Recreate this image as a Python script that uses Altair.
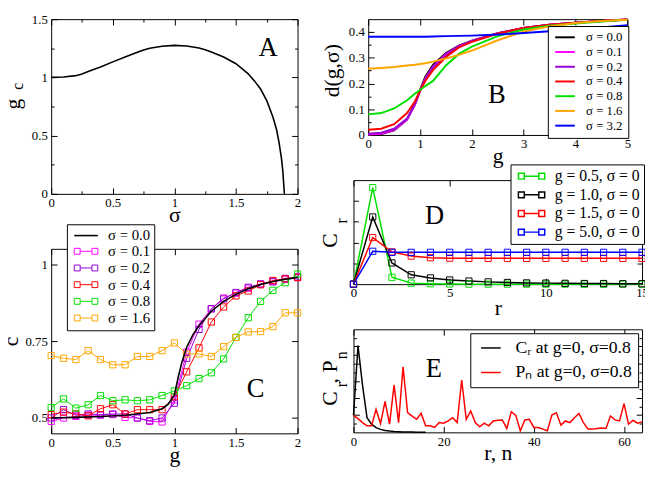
import altair as alt
import pandas as pd

FONT = "Liberation Serif"

# ---------------- Panel A : g_c versus sigma ----------------
A_sigma = [0.0, 0.1, 0.2, 0.25, 0.3, 0.4, 0.5, 0.6, 0.7, 0.75, 0.8, 0.9, 1.0, 1.1, 1.2,
           1.25, 1.3, 1.4, 1.5, 1.6, 1.65, 1.7, 1.75, 1.8, 1.83, 1.85, 1.87, 1.88, 1.89, 1.893]
A_gc = [1.0, 1.003, 1.015, 1.03, 1.05, 1.09, 1.133, 1.175, 1.215, 1.235, 1.25, 1.268, 1.275, 1.27, 1.252,
        1.237, 1.218, 1.175, 1.117, 1.03, 0.97, 0.9, 0.8, 0.66, 0.55, 0.44, 0.3, 0.2, 0.05, 0.0]

# ---------------- Panel B : d(g, sigma) ----------------
B_g = [0, 0.25, 0.5, 0.75, 0.9, 1.0, 1.1, 1.25, 1.5, 1.75, 2.0, 2.5, 3.0, 3.5, 4.0, 4.5, 5.0]
B_s00 = [0.0, 0.004, 0.018, 0.06, 0.12, 0.175, 0.225, 0.272, 0.318, 0.347, 0.366, 0.395, 0.416, 0.428, 0.436, 0.443, 0.449]
B_s01 = [0.002, 0.005, 0.02, 0.06, 0.117, 0.172, 0.22, 0.266, 0.314, 0.345, 0.365, 0.395, 0.416, 0.428, 0.436, 0.443, 0.449]
B_s02 = [0.005, 0.009, 0.024, 0.064, 0.118, 0.17, 0.216, 0.262, 0.31, 0.343, 0.364, 0.394, 0.416, 0.428, 0.436, 0.443, 0.449]
B_s04 = [0.02, 0.024, 0.042, 0.085, 0.13, 0.172, 0.21, 0.252, 0.303, 0.34, 0.362, 0.394, 0.416, 0.428, 0.436, 0.443, 0.449]
B_s08 = [0.08, 0.085, 0.103, 0.135, 0.16, 0.175, 0.19, 0.21, 0.27, 0.315, 0.343, 0.384, 0.41, 0.424, 0.433, 0.441, 0.448]
B_s16 = [0.257, 0.26, 0.264, 0.27, 0.273, 0.276, 0.279, 0.285, 0.297, 0.311, 0.328, 0.368, 0.402, 0.422, 0.435, 0.443, 0.448]
B_s32 = [0.382, 0.382, 0.382, 0.382, 0.382, 0.382, 0.382, 0.383, 0.384, 0.385, 0.386, 0.39, 0.396, 0.403, 0.411, 0.418, 0.426]
B_names = ["σ = 0.0", "σ = 0.1", "σ = 0.2", "σ = 0.4", "σ = 0.8", "σ = 1.6", "σ = 3.2"]
B_colors = ["#000000", "#ff00ff", "#9400d3", "#ff0000", "#00e000", "#ffa500", "#0000ff"]

# ---------------- Panel C : c versus g ----------------
C_g = [0.0, 0.1, 0.2, 0.3, 0.4, 0.5, 0.6, 0.7, 0.8, 0.9, 1.0, 1.1, 1.2, 1.3, 1.4, 1.5, 1.6, 1.7, 1.8, 1.9, 2.0]
C_s01 = [0.489, 0.5, 0.505, 0.509, 0.509, 0.511, 0.502, 0.5, 0.489, 0.487, 0.559, 0.714, 0.805, 0.855, 0.89, 0.906, 0.922, 0.935, 0.943, 0.951, 0.956]
C_s02 = [0.5, 0.527, 0.509, 0.513, 0.511, 0.513, 0.513, 0.5, 0.491, 0.5, 0.548, 0.694, 0.788, 0.855, 0.887, 0.908, 0.925, 0.936, 0.943, 0.954, 0.959]
C_s04 = [0.511, 0.519, 0.513, 0.507, 0.53, 0.543, 0.513, 0.527, 0.527, 0.527, 0.569, 0.65, 0.728, 0.812, 0.861, 0.897, 0.913, 0.933, 0.947, 0.952, 0.957]
C_s08 = [0.534, 0.562, 0.532, 0.543, 0.573, 0.556, 0.559, 0.556, 0.559, 0.573, 0.588, 0.605, 0.628, 0.647, 0.692, 0.762, 0.826, 0.879, 0.915, 0.94, 0.968]
C_s16 = [0.703, 0.694, 0.69, 0.719, 0.69, 0.673, 0.673, 0.7, 0.7, 0.719, 0.744, 0.708, 0.708, 0.7, 0.732, 0.762, 0.78, 0.781, 0.797, 0.842, 0.842]
C_g0 = [0.0, 0.2, 0.4, 0.6, 0.8, 0.9, 0.95, 1.0, 1.03, 1.06, 1.1, 1.15, 1.2, 1.3, 1.4, 1.5, 1.6, 1.7, 1.8, 1.9, 2.0]
C_s00 = [0.5, 0.502, 0.505, 0.509, 0.518, 0.53, 0.545, 0.575, 0.63, 0.68, 0.73, 0.77, 0.8, 0.847, 0.879, 0.902, 0.92, 0.934, 0.944, 0.951, 0.957]
C_names = ["σ = 0.0", "σ = 0.1", "σ = 0.2", "σ = 0.4", "σ = 0.8", "σ = 1.6"]
C_colors = ["#000000", "#ff00ff", "#9400d3", "#ff0000", "#00e000", "#ffa500"]

# ---------------- Panel D : C_r versus r ----------------
D_r = list(range(16))
D_g05 = [0, 0.464, 0.033, 0.005, 0.002, 0.001, 0, 0, 0, 0, 0, 0, 0, 0, 0, 0]
D_g10 = [0, 0.323, 0.102, 0.045, 0.03, 0.02, 0.015, 0.011, 0.008, 0.006, 0.005, 0.004, 0.003, 0.003, 0.002, 0.002]
D_g15 = [0, 0.224, 0.155, 0.135, 0.127, 0.125, 0.124, 0.124, 0.124, 0.124, 0.124, 0.124, 0.124, 0.124, 0.124, 0.124]
D_g50 = [0, 0.158, 0.153, 0.153, 0.153, 0.153, 0.153, 0.153, 0.153, 0.153, 0.153, 0.153, 0.153, 0.153, 0.153, 0.153]
D_names = ["g = 0.5, σ = 0", "g = 1.0, σ = 0", "g = 1.5, σ = 0", "g = 5.0, σ = 0"]
D_colors = ["#00e000", "#000000", "#ff0000", "#0000ff"]

# ---------------- Panel E : C_r and P_n ----------------
E_r = list(range(17))
E_C = [0.2, 1.01, 0.55, 0.171, 0.096, 0.055, 0.035, 0.022, 0.015, 0.01, 0.007, 0.005, 0.004, 0.003, 0.002, 0.002, 0.001]
E_n = list(range(65))
E_P = [0.198, 0.16, 0.114, 0.076, 0.076, 0.267, 0.103, 0.362, 0.095, 0.552,
       0.114, 0.762, 0.229, 0.19, 0.152, 0.221, 0.076, 0.076, 0.057, 0.114,
       0.107, 0.133, 0.171, 0.114, 0.61, 0.152, 0.248, 0.114, 0.065, 0.107,
       0.076, 0.133, 0.141, 0.145, 0.046, 0.24, 0.198, 0.019, 0.145, 0.152,
       0.057, 0.057, 0.038, 0.019, 0.202, 0.229, 0.084, 0.133, 0.114, 0.171,
       0.221, 0.114, 0.038, 0.038, 0.046, 0.05, 0.046, 0.19, 0.145, 0.133,
       0.335, 0.095, 0.141, 0.107, 0.122]
E_names = ["Cᵣ at g=0, σ=0.8", "Pₙ at g=0, σ=0.8"]
E_colors = ["#000000", "#ff0000"]

# legend symbol paths (units scaled by sqrt(symbolSize)/2 = 4 px)
P_LINE20 = "M-1,0H4"
P_LINE24 = "M-1,0H5"
P_SQ24 = "M-1,-0.75H0.5V0.75H-1ZM0.5,0H3.5M3.5,-0.75H5V0.75H3.5Z"
P_SQ27 = "M-1,-0.75H0.5V0.75H-1ZM0.5,0H4.2M4.2,-0.75H5.7V0.75H4.2Z"


def qs(dom):
    return alt.Scale(domain=dom, nice=False, zero=False)


def ax(orient, values, size=5, labels=False, title="", lpad=None, **kw):
    if lpad is None:
        lpad = 9 if orient in ("bottom", "top") else 10
    d = dict(orient=orient, values=values, tickSize={"expr": str(-size)}, tickColor="black",
             tickWidth=1, domain=False, grid=False, labels=labels, title=title,
             labelFlush=False, labelOverlap=False, labelExpr="'' + datum.value", labelPadding=lpad,
             labelFont=FONT, labelFontSize=13, labelColor="black",
             titleFont=FONT, titleFontSize=22, titleFontWeight="normal", titleColor="black")
    d.update(kw)
    return alt.Axis(**d)


def ytitle(t, tx, ty, size=22):
    return dict(title=t, titleX=tx, titleY=ty, titleAngle=270, titleAlign="center",
                titleBaseline="alphabetic", titleFontSize=size)


def xtitle(t, ty):
    return dict(title=t, titleY=ty, titleBaseline="alphabetic")


def axis_layer(xdom, ydom, xaxis=None, yaxis=None):
    df = pd.DataFrame({"x": xdom, "y": ydom})
    return alt.Chart(df).mark_point(opacity=0).encode(
        x=alt.X("x:Q", scale=qs(xdom), axis=xaxis),
        y=alt.Y("y:Q", scale=qs(ydom), axis=yaxis),
    )


def long_df(xs, series, names):
    rows = []
    for name, ys in zip(names, series):
        for x, y in zip(xs, ys):
            rows.append({"x": x, "y": y, "s": name})
    return pd.DataFrame(rows)


def make_legend(boxed=True, **lp):
    props = dict(orient="none", title=None, labelFont=FONT, labelColor="black",
                 symbolSize=64, labelLimit=400)
    if boxed:
        props.update(strokeColor="black", fillColor="white")
    props.update(lp)
    return alt.Legend(**props)


def lines(df, xdom, ydom, names, colors, width, legend=None):
    return alt.Chart(df).mark_line(strokeWidth=width).encode(
        x=alt.X("x:Q", scale=qs(xdom), axis=None),
        y=alt.Y("y:Q", scale=qs(ydom), axis=None),
        color=alt.Color("s:N", scale=alt.Scale(domain=names, range=colors), legend=legend),
    )


def squares(df, xdom, ydom, names, colors, size=40, legend=None):
    return alt.Chart(df).mark_point(shape="square", filled=False, size=size, strokeWidth=1, opacity=1).encode(
        x=alt.X("x:Q", scale=qs(xdom), axis=None),
        y=alt.Y("y:Q", scale=qs(ydom), axis=None),
        color=alt.Color("s:N", scale=alt.Scale(domain=names, range=colors), legend=legend),
    )


def letter(x, y, t, xdom, ydom):
    df = pd.DataFrame({"x": [x], "y": [y], "t": [t]})
    return alt.Chart(df).mark_text(font=FONT, fontSize=27, color="black", align="center",
                                   baseline="middle").encode(
        x=alt.X("x:Q", scale=qs(xdom), axis=None),
        y=alt.Y("y:Q", scale=qs(ydom), axis=None),
        text="t:N",
    )


def panel(layers, w, h):
    return alt.layer(*layers).resolve_axis(x="independent", y="independent").properties(width=w, height=h)


def indep(c):
    return c.resolve_scale(color="independent", stroke="independent").resolve_legend(
        color="independent", stroke="independent")


# ---------------- build A ----------------
AX, AY = [0, 2], [0, 1.5]
A_maj_x, A_min_x = [0, 0.5, 1, 1.5, 2], [0.25, 0.75, 1.25, 1.75]
A_maj_y, A_min_y = [0, 0.5, 1, 1.5], [0.25, 0.75, 1.25]
dfA = pd.DataFrame({"x": A_sigma, "y": A_gc})
chartA = panel([
    axis_layer(AX, AY,
               ax("bottom", A_maj_x, 6, labels=True, **xtitle("σ", 28)),
               ax("left", A_maj_y, 6, labels=True, **ytitle("g", -32, 86))),
    axis_layer(AX, AY, ax("top", A_maj_x, 6), ax("right", A_maj_y, 6)),
    axis_layer(AX, AY, ax("bottom", A_min_x, 3), ax("left", A_min_y, 3, **ytitle("c", -29, 68, 16))),
    axis_layer(AX, AY, ax("top", A_min_x, 3), ax("right", A_min_y, 3)),
    alt.Chart(dfA).mark_line(color="black", strokeWidth=1.6).encode(
        x=alt.X("x:Q", scale=qs(AX), axis=None), y=alt.Y("y:Q", scale=qs(AY), axis=None)),
    letter(1.76, 1.25, "A", AX, AY),
], 251, 178)

# ---------------- build B ----------------
BX, BY = [0, 5], [0, 0.45]
B_maj_x = [0, 1, 2, 3, 4, 5]
B_maj_y, B_min_y = [0, 0.1, 0.2, 0.3, 0.4], [0.05, 0.15, 0.25, 0.35]
dfB = long_df(B_g, [B_s00, B_s01, B_s02, B_s04, B_s08, B_s16, B_s32], B_names)
legB = make_legend(legendX=183, legendY=7, padding=5, labelFontSize=13, rowPadding=1,
                   labelOffset=21, symbolStrokeWidth=2, symbolType=P_LINE20)
chartB = panel([
    axis_layer(BX, BY,
               ax("bottom", B_maj_x, 6, labels=True, **xtitle("g", 28)),
               ax("left", B_maj_y, 6, labels=True, **ytitle("d(g,σ)", -30, 52))),
    axis_layer(BX, BY, ax("top", B_maj_x, 6), ax("right", B_maj_y, 6)),
    axis_layer(BX, BY, None, ax("left", B_min_y, 3)),
    axis_layer(BX, BY, None, ax("right", B_min_y, 3)),
    lines(dfB, BX, BY, B_names, B_colors, 2, legend=legB),
    letter(2.48, 0.156, "B", BX, BY),
], 264, 118)

# ---------------- build C ----------------
CX, CY = [0, 2], [0.45, 1.05]
C_maj_x, C_maj_y = [0, 0.5, 1, 1.5, 2], [0.5, 0.75, 1]
dfC = long_df(C_g, [C_s01, C_s02, C_s04, C_s08, C_s16], C_names[1:])
dfC0 = long_df(C_g0, [C_s00], C_names[:1])
legC = make_legend(legendX=16, legendY=-25, padding=4, labelFontSize=15, rowPadding=1,
                   labelOffset=23, symbolStrokeWidth=1, symbolType=P_SQ24,
                   title=" ", titleFontSize=15, titlePadding=1)
legC0 = make_legend(boxed=False, legendX=20, legendY=-21, padding=0, labelFontSize=15,
                    labelOffset=23, symbolStrokeWidth=1.6, symbolType=P_LINE24)
chartC = panel([
    axis_layer(CX, CY,
               ax("bottom", C_maj_x, 6, labels=True, **xtitle("g", 29)),
               ax("left", C_maj_y, 6, labels=True, **ytitle("c", -34, 94))),
    axis_layer(CX, CY, ax("top", C_maj_x, 6), ax("right", C_maj_y, 6)),
    lines(dfC, CX, CY, C_names[1:], C_colors[1:], 1, legend=legC),
    squares(dfC, CX, CY, C_names[1:], C_colors[1:], 40),
    alt.Chart(dfC0).mark_line(strokeWidth=1.6).encode(
        x=alt.X("x:Q", scale=qs(CX), axis=None),
        y=alt.Y("y:Q", scale=qs(CY), axis=None),
        stroke=alt.Stroke("s:N", scale=alt.Scale(domain=C_names[:1], range=C_colors[:1]), legend=legC0),
    ),
    letter(1.66, 0.594, "C", CX, CY),
], 251, 188)

# ---------------- build D ----------------
DX, DY = [0, 15], [0, 0.5]
D_maj_x, D_maj_y = [0, 5, 10, 15], [0.1, 0.2, 0.3, 0.4]
dfD = long_df(D_r, [D_g05, D_g10, D_g15, D_g50], D_names)
legD = make_legend(legendX=160, legendY=-16, padding=4, labelFontSize=16, rowPadding=3,
                   labelOffset=25, symbolStrokeWidth=1.5, symbolType=P_SQ27)
chartD = panel([
    axis_layer(DX, DY,
               ax("bottom", D_maj_x, 6, labels=True, **xtitle("r", 31)),
               ax("left", D_maj_y, 5, **ytitle("C", -17, 61))),
    axis_layer(DX, DY, ax("top", D_maj_x, 6), ax("right", D_maj_y, 5)),
    axis_layer(DX, DY, None, ax("left", [], 3, **ytitle("r", -7, 41, 16))),
    lines(dfD, DX, DY, D_names, D_colors, 1.5, legend=legD),
    squares(dfD, DX, DY, D_names, D_colors, 40),
    letter(4.22, 0.326, "D", DX, DY),
], 294, 106)

# ---------------- build E ----------------
EX, EY = [0, 64], [0, 1.2]
E_maj_x = [0, 20, 40, 60]
E_maj_y, E_min_y = [0.2, 0.4, 0.6, 0.8, 1.0], [0.1, 0.3, 0.5, 0.7, 0.9, 1.1]
dfE = pd.concat([long_df(E_r, [E_C], E_names[:1]), long_df(E_n, [E_P], E_names[1:])])
legE = make_legend(legendX=119, legendY=4, padding=6, labelFontSize=18, rowPadding=7,
                   labelOffset=22, symbolStrokeWidth=1.5, symbolType=P_LINE20)
chartE = panel([
    axis_layer(EX, EY,
               ax("bottom", E_maj_x, 6, labels=True, **xtitle("r, n", 28)),
               ax("left", E_maj_y, 6, **ytitle("C", -17, 70))),
    axis_layer(EX, EY, ax("top", E_maj_x, 6), ax("right", E_maj_y, 6, **ytitle(", P", -311, 43))),
    axis_layer(EX, EY, None, ax("left", E_min_y, 3, **ytitle("r", -7, 56, 16))),
    axis_layer(EX, EY, None, ax("right", E_min_y, 3, **ytitle("n", -301, 26, 16))),
    lines(dfE, EX, EY, E_names, E_colors, 1.5, legend=legE),
    letter(17.8, 0.74, "E", EX, EY),
], 294, 105)

left = indep(alt.vconcat(chartA, chartC, spacing=56, bounds="flush"))
right = indep(alt.vconcat(chartB, chartD, chartE, spacing=46, bounds="flush", center=True))
chart = indep(alt.hconcat(left, right, spacing=15)).properties(
    padding={"left": -9, "top": 0, "right": -4, "bottom": 0}, background="white"
).configure_view(stroke="black", strokeWidth=1)

chart.save("out.html", embed_options={"renderer": "svg", "actions": False})
